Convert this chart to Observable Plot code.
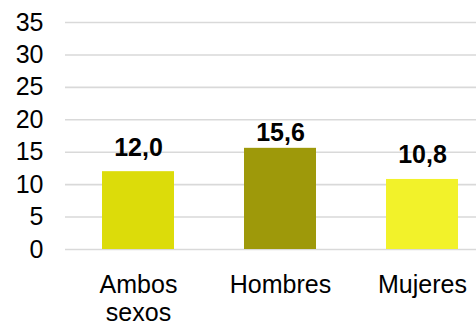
<!DOCTYPE html>
<html>
<head>
<meta charset="utf-8">
<script src="https://cdn.jsdelivr.net/npm/d3@7"></script>
<script src="https://cdn.jsdelivr.net/npm/@observablehq/plot@0.6"></script>
<style>
  html, body { margin: 0; padding: 0; background: #fff; }
  svg { display: block; }
</style>
</head>
<body>
<div id="chart"></div>
<script>
const categories = ["Ambos sexos", "Hombres", "Mujeres"];
const tickLabels = ["Ambos\nsexos", "Hombres", "Mujeres"];
const values = [12.0, 15.6, 10.8];
const colors = ["#dcdc0a", "#9e990a", "#f2f22a"];
const yTicks = [0, 5, 10, 15, 20, 25, 30, 35];

const data = categories.map((c, i) => ({category: c, value: values[i]}));
const fmt = v => d3.format(".1f")(v).replace(".", ",");

const chart = Plot.plot({
  width: 476,
  height: 322,
  marginLeft: 65,
  marginRight: 0,
  marginTop: 22,
  marginBottom: 73,
  style: {fontFamily: "'Liberation Sans', Arial, sans-serif", fontSize: "25px", color: "#000", background: "#fff"},
  x: {domain: categories, range: [67, 493], paddingInner: 0.493, paddingOuter: 0.2465, label: null, axis: null},
  y: {domain: [0, 35], label: null},
  color: {domain: categories, range: colors},
  marks: [
    Plot.ruleY(yTicks, {stroke: "#d9d9d9", strokeWidth: 1.6}),
    Plot.barY(data, {x: "category", y: "value", fill: "category"}),
    Plot.text(data.filter(d => d.category !== "Hombres"), {x: "category", y: "value", text: d => fmt(d.value), dy: -24, fontWeight: "bold", fontSize: 25, fill: "#000"}),
    Plot.text(data.filter(d => d.category === "Hombres"), {x: "category", y: "value", text: d => fmt(d.value), dy: -15, fontWeight: "bold", fontSize: 25, fill: "#000"}),
    Plot.axisY({ticks: yTicks, tickSize: 0, tickPadding: 22, fontSize: 25, label: null}),
    Plot.text(categories, {x: d => d, text: (d, i) => tickLabels[i], frameAnchor: "bottom", lineAnchor: "top", dy: 24, lineHeight: 1.1, fontSize: 25, fill: "#000"})
  ]
});
document.getElementById("chart").appendChild(chart);
</script>
</body>
</html>
